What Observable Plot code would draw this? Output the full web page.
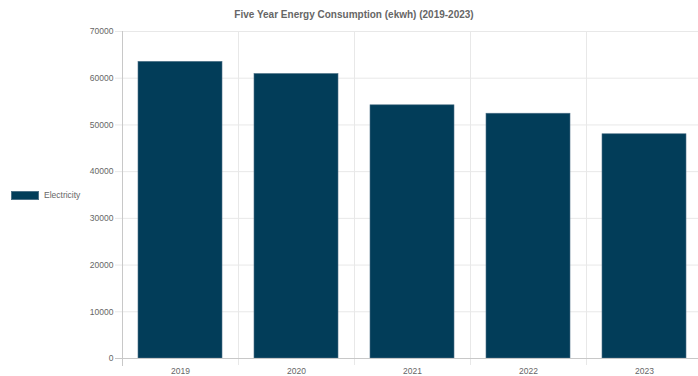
<!DOCTYPE html>
<html>
<head>
<meta charset="utf-8">
<script src="https://cdn.jsdelivr.net/npm/d3@7"></script>
<script src="https://cdn.jsdelivr.net/npm/@observablehq/plot@0.6"></script>
<style>
  html, body { margin: 0; padding: 0; background: #fff; }
  #wrap { position: relative; width: 698px; height: 376px; overflow: hidden; font-family: "Liberation Sans", Arial, sans-serif; }
  #title { position: absolute; top: 9px; left: 0; width: 708px; text-align: center; font-size: 10px; font-weight: bold; color: #666; }
  #legend { position: absolute; left: 11px; top: 190px; display: flex; align-items: center; font-size: 8.5px; color: #666; }
  #legend .sw { width: 28px; height: 9px; margin-right: 5px; box-sizing: border-box; border: 1px solid #4d7187; }
  #chart { position: absolute; left: 0; top: 0; }
</style>
</head>
<body>
<div id="wrap">
  <div id="chart"></div>
  <div id="title"></div>
  <div id="legend"></div>
</div>
<script>
const title = "Five Year Energy Consumption (ekwh) (2019-2023)";
const seriesName = "Electricity";
const years = ["2019", "2020", "2021", "2022", "2023"];
const electricity = [63500, 60900, 54200, 52400, 48000];
const yTicks = [0, 10000, 20000, 30000, 40000, 50000, 60000, 70000];
const barColor = "#023d59";

const data = years.map((y, i) => ({year: y, value: electricity[i]}));

document.getElementById("title").textContent = title;
const lg = document.getElementById("legend");
lg.innerHTML = `<div class="sw" style="background:${barColor}"></div><span>${seriesName}</span>`;

const plot = Plot.plot({
  width: 698,
  height: 376,
  marginTop: 31,
  marginBottom: 18,
  marginLeft: 122,
  marginRight: 0,
  style: {fontFamily: "'Liberation Sans', Arial, sans-serif", fontSize: "8.5px", color: "#666", background: "transparent"},
  x: {domain: years, range: [122, 702], padding: 0, label: null},
  y: {domain: [0, 70000], range: [358, 31], label: null},
  marks: [
    Plot.ruleY(yTicks, {stroke: "#e8e8e8", insetLeft: -7}),
    Plot.ruleX(years.slice(1), {stroke: "#e8e8e8", dx: -58, insetBottom: -7}),
    Plot.barY(data, {x: "year", y: "value", fill: barColor, stroke: "#4d7187", strokeWidth: 0.6, insetLeft: 16, insetRight: 16}),
    Plot.ruleX([years[0]], {stroke: "#c8c8c8", dx: -58, insetBottom: -8}),
    Plot.ruleY([0], {stroke: "#c8c8c8", insetLeft: -7}),
    Plot.axisY({ticks: yTicks, tickSize: 0, tickPadding: 9, tickFormat: d => String(d), fill: "#666", fontSize: 8.5, label: null}),
    Plot.axisX({tickSize: 0, tickPadding: 9, fill: "#666", fontSize: 8.5, label: null})
  ]
});
document.getElementById("chart").appendChild(plot);
</script>
</body>
</html>
